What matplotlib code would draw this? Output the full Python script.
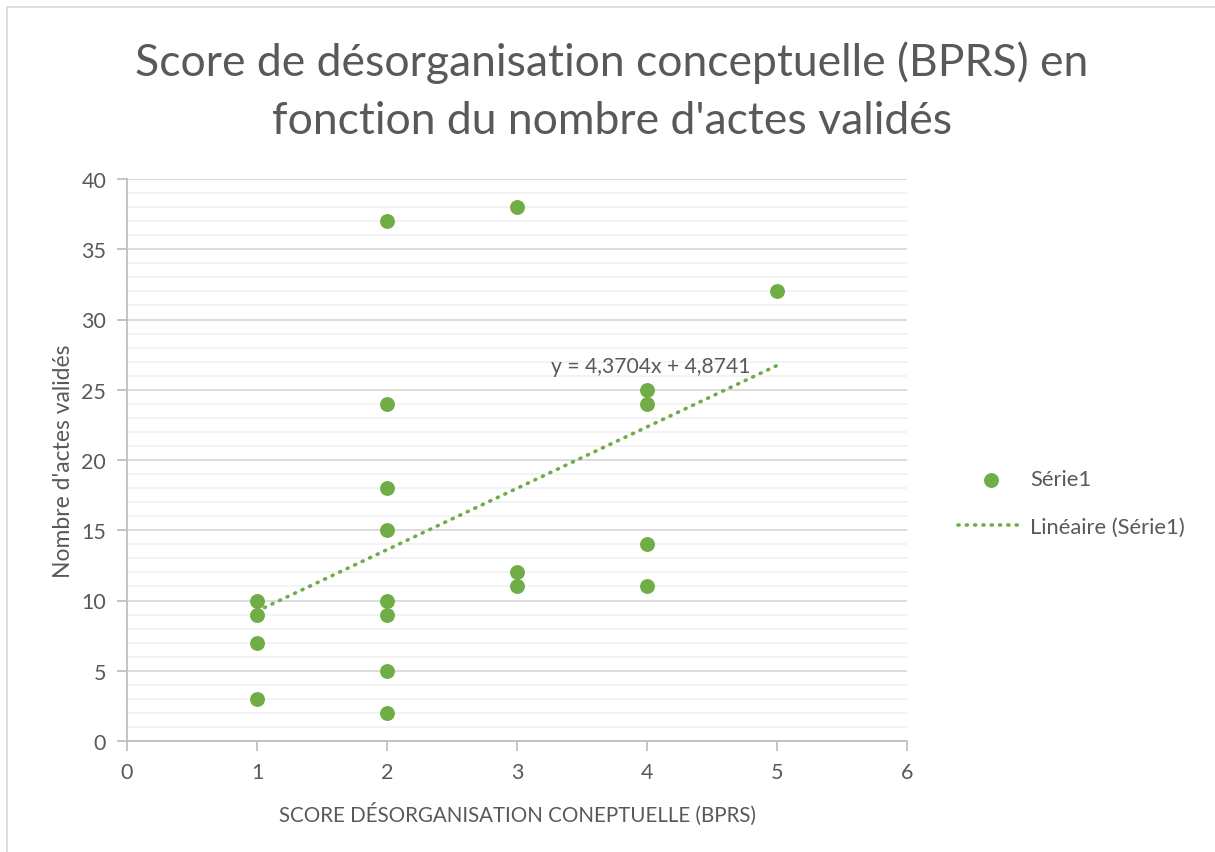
import numpy as np
import matplotlib.pyplot as plt
from matplotlib.patches import Rectangle

plt.rcParams['font.family'] = ['Lato', 'DejaVu Sans']

# score BPRS / nombre d'actes validés
score = [1, 1, 1, 1, 2, 2, 2, 2, 2, 2, 2, 2, 3, 3, 3, 4, 4, 4, 4, 5]
actes = [10, 9, 7, 3, 37, 24, 18, 15, 10, 9, 5, 2, 38, 12, 11, 25, 24, 14, 11, 32]

green = '#70ad47'
txt = '#595959'

fig = plt.figure(figsize=(12.15, 8.53), dpi=100)
fig.patches.append(Rectangle((7 / 1215, -0.1), 1.2, 1.1 - 8 / 853, transform=fig.transFigure,
                             fill=False, edgecolor='#d9d9d9', lw=1.2))
ax = fig.add_axes([127 / 1215, 1 - 742 / 853, 780 / 1215, 562 / 853])

ax.scatter(score, actes, s=115, color=green, zorder=3, label='Série1', linewidths=0)

slope, inter = np.polyfit(score, actes, 1)
xs = np.array([min(score), max(score)])
ax.plot(xs, slope * xs + inter, color=green, lw=2.6, linestyle=(0, (0.3, 2.0)),
        dash_capstyle='round', zorder=2, label='Linéaire (Série1)')
eq = 'y = ' + f'{slope:.4f}'.replace('.', ',') + 'x + ' + f'{inter:.4f}'.replace('.', ',')
ax.text(4.03, 26.7, eq, ha='center', va='center', fontsize=15.2, color=txt)

ax.set_xlim(0, 6)
ax.set_ylim(0, 40)
ax.set_xticks(range(0, 7))
ax.set_yticks(range(0, 41, 5))
ax.set_yticks(range(0, 41, 1), minor=True)
ax.grid(axis='y', which='major', color='#d9d9d9', lw=1.3)
ax.grid(axis='y', which='minor', color='#f2f2f2', lw=1.3)
ax.set_axisbelow(True)
for s in ['top', 'right']:
    ax.spines[s].set_visible(False)
for s in ['left', 'bottom']:
    ax.spines[s].set_color('#bfbfbf')
    ax.spines[s].set_linewidth(1.3)
ax.tick_params(which='major', length=7, width=1.3, color='#bfbfbf', labelsize=15.5,
               labelcolor=txt, pad=8)
ax.tick_params(which='minor', length=0)

ax.set_xlabel('SCORE DÉSORGANISATION CONEPTUELLE (BPRS)', fontsize=14.8, color=txt, labelpad=14)
ax.set_ylabel("Nombre d'actes validés", fontsize=16.5, color=txt, labelpad=5)

fig.text(612 / 1215, 1 - 92 / 853, "Score de désorganisation conceptuelle (BPRS) en\nfonction du nombre d'actes validés",
         ha='center', va='center', fontsize=32, color=txt, linespacing=1.52)

ax.legend(loc='center left', bbox_to_anchor=(938 / 1215, 1 - 504 / 853), bbox_transform=fig.transFigure,
          frameon=False, fontsize=15.8, labelcolor=txt, handlelength=3.0, labelspacing=1.25,
          handletextpad=0.3)

fig.savefig('out.png', dpi=100)
